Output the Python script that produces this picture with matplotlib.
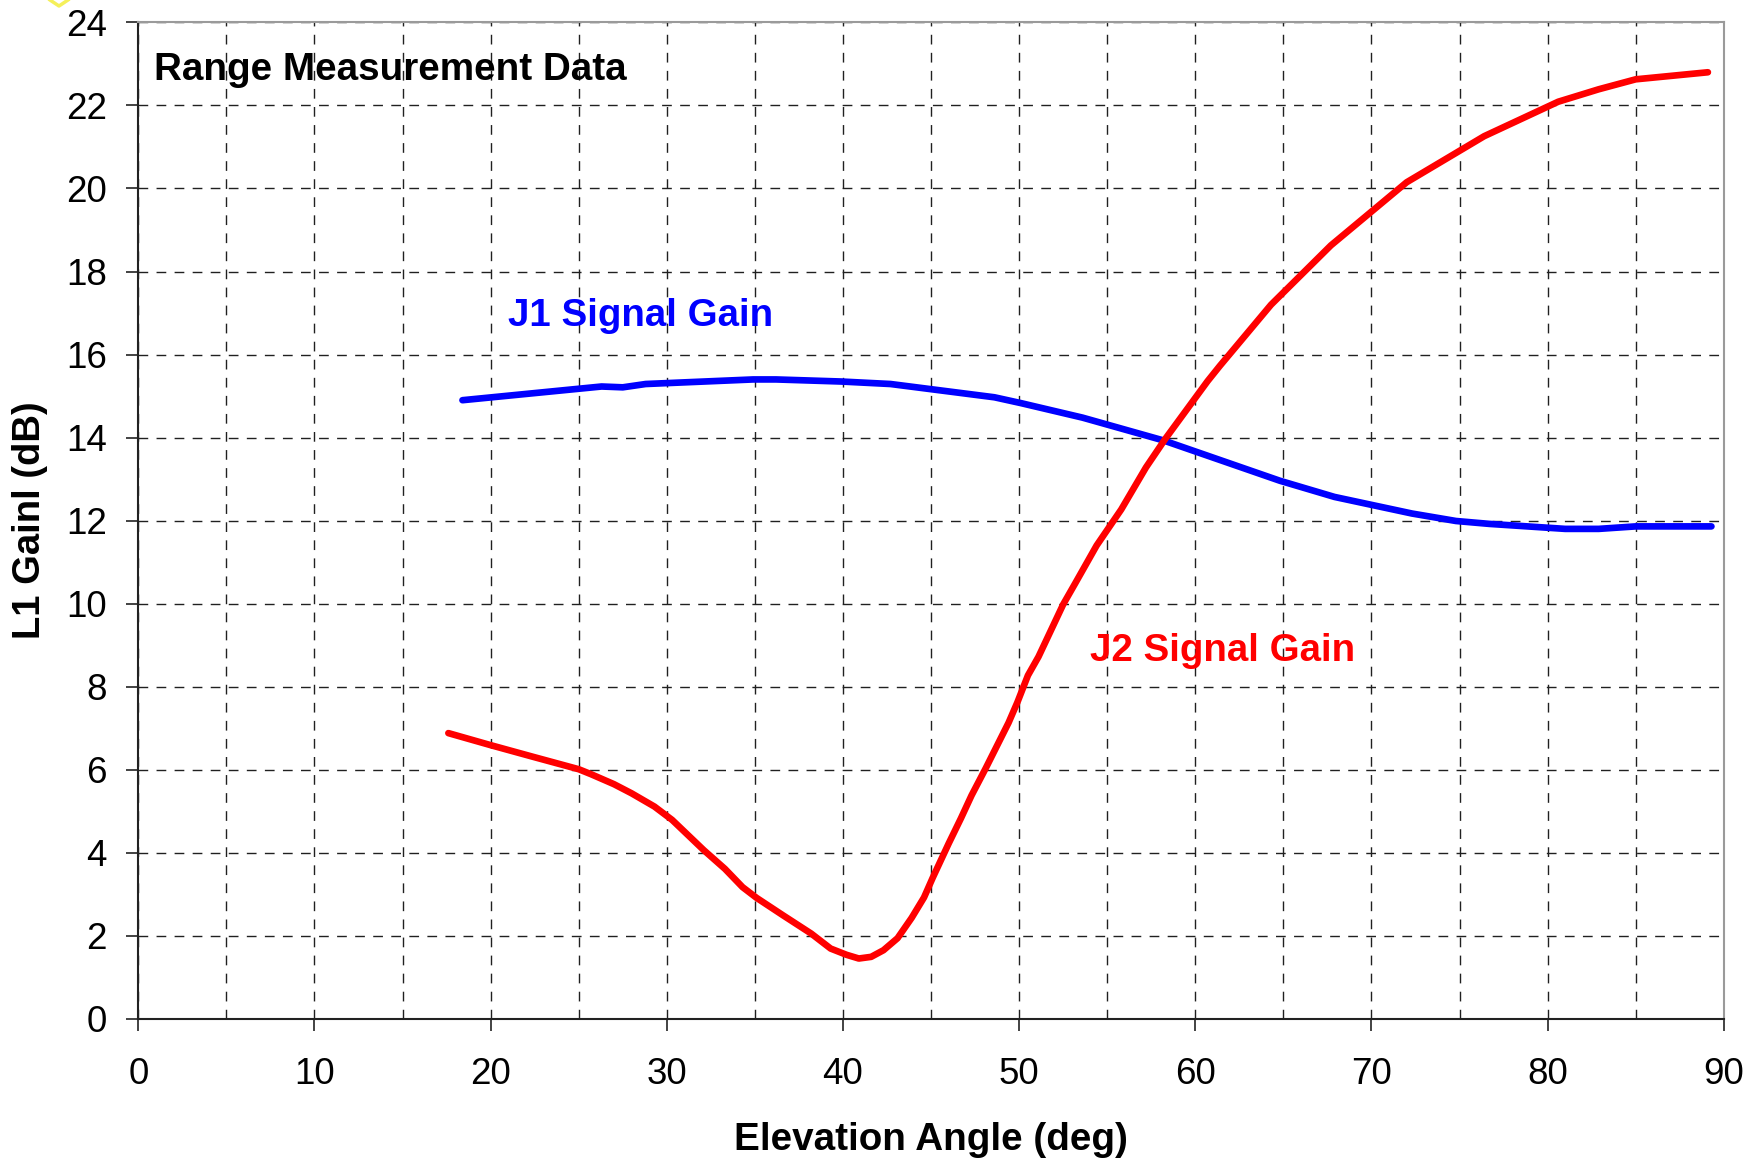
import matplotlib
matplotlib.use("Agg")
import matplotlib.pyplot as plt
from matplotlib.ticker import MultipleLocator
from matplotlib.lines import Line2D

plt.rcParams["font.family"] = ["Liberation Sans", "DejaVu Sans"]
plt.rcParams["lines.scale_dashes"] = False

# J1 signal gain vs elevation angle
j1_angle = [18.4, 26.3, 27.5, 28.8, 34.9, 36.2, 39.9, 42.7, 48.6, 50.1, 53.6,
            58.2, 64.8, 67.9, 72.3, 74.8, 76.7, 81.0, 82.9, 85.0, 89.3]
j1_gain = [14.90, 15.23, 15.21, 15.29, 15.40, 15.40, 15.35, 15.29, 14.97, 14.83,
           14.48, 13.93, 12.96, 12.57, 12.17, 11.99, 11.92, 11.80, 11.80, 11.86, 11.86]

# J2 signal gain vs elevation angle
j2_angle = [17.6, 20.0, 22.4, 25.0, 25.7, 27.0, 28.0, 29.3, 30.3, 32.1, 33.3, 34.3,
            35.1, 36.6, 38.2, 39.3, 40.2, 40.9, 41.6, 42.3, 43.1, 43.9, 44.6, 45.1,
            46.0, 46.7, 47.3, 48.1, 49.4, 49.9, 50.5, 51.1, 52.5, 53.2, 54.4, 55.8,
            57.2, 58.3, 60.7, 61.4, 64.3, 67.7, 72.0, 76.4, 80.6, 82.9, 85.0, 89.1]
j2_gain = [6.88, 6.59, 6.31, 6.01, 5.89, 5.65, 5.43, 5.11, 4.79, 4.06, 3.61, 3.17,
           2.91, 2.49, 2.05, 1.69, 1.54, 1.45, 1.49, 1.65, 1.94, 2.43, 2.92, 3.40,
           4.22, 4.83, 5.38, 6.03, 7.13, 7.62, 8.27, 8.72, 9.98, 10.5, 11.4, 12.27,
           13.28, 13.97, 15.36, 15.73, 17.2, 18.63, 20.15, 21.26, 22.09, 22.39, 22.63, 22.80]

x_ticks = list(range(0, 91, 10))
y_ticks = list(range(0, 25, 2))

fig = plt.figure(figsize=(17.63, 11.61), dpi=100)
ax = fig.add_axes([0.07845, 0.12256, 0.8993, 0.8581])

ax.plot(j1_angle, j1_gain, color="#0000ff", lw=4.8, solid_capstyle="round",
        solid_joinstyle="round", zorder=3)
ax.plot(j2_angle, j2_gain, color="#ff0000", lw=4.8, solid_capstyle="round",
        solid_joinstyle="round", zorder=3)

ax.set_xlim(0, 90)
ax.set_ylim(0, 24)
ax.set_xticks(x_ticks)
ax.set_yticks(y_ticks)
ax.xaxis.set_minor_locator(MultipleLocator(5))
ax.tick_params(axis="x", which="minor", length=0)

ax.grid(True, which="both", axis="x", color="#202020", lw=1.0,
        linestyle=(0, (7, 6)), zorder=1)
ax.grid(True, which="major", axis="y", color="#202020", lw=1.0,
        linestyle=(0, (7, 6)), zorder=1)
ax.set_axisbelow(True)

ax.tick_params(axis="both", which="major", direction="out", length=8.5, width=1.2,
               color="#222222", labelsize=26.5)
ax.tick_params(axis="x", which="major", pad=19)
ax.tick_params(axis="y", which="major", pad=14)

for side in ("left", "bottom"):
    ax.spines[side].set_color("#222222")
    ax.spines[side].set_linewidth(1.5)
for side in ("top", "right"):
    ax.spines[side].set_color("#9a9a9a")
    ax.spines[side].set_linewidth(1.5)

ax.set_xlabel("Elevation Angle (deg)", fontsize=27.8, fontweight="bold")
ax.set_ylabel("L1 Gainl (dB)", fontsize=27.5, fontweight="bold")
ax.xaxis.set_label_coords(0.5, -0.104)
ax.yaxis.set_label_coords(-0.057, 0.5)

ax.text(0.89, 22.61, "Range Measurement Data", fontsize=27.8, fontweight="bold",
        color="black", ha="left", va="baseline")
ax.text(21.0, 16.68, "J1 Signal Gain", fontsize=27.7, fontweight="bold",
        color="#0000ff", ha="left", va="baseline")
ax.text(54.0, 8.62, "J2 Signal Gain", fontsize=27.7, fontweight="bold",
        color="#ff0000", ha="left", va="baseline")

# small yellow selection handle at the top-left corner
fig.add_artist(Line2D([50 / 1763, 59 / 1763, 68 / 1763],
                      [1 - 0 / 1161, 1 - 6 / 1161, 1 - 0 / 1161],
                      transform=fig.transFigure, color="#f5f05a", lw=2.5))

fig.savefig("out.png", dpi=100)
